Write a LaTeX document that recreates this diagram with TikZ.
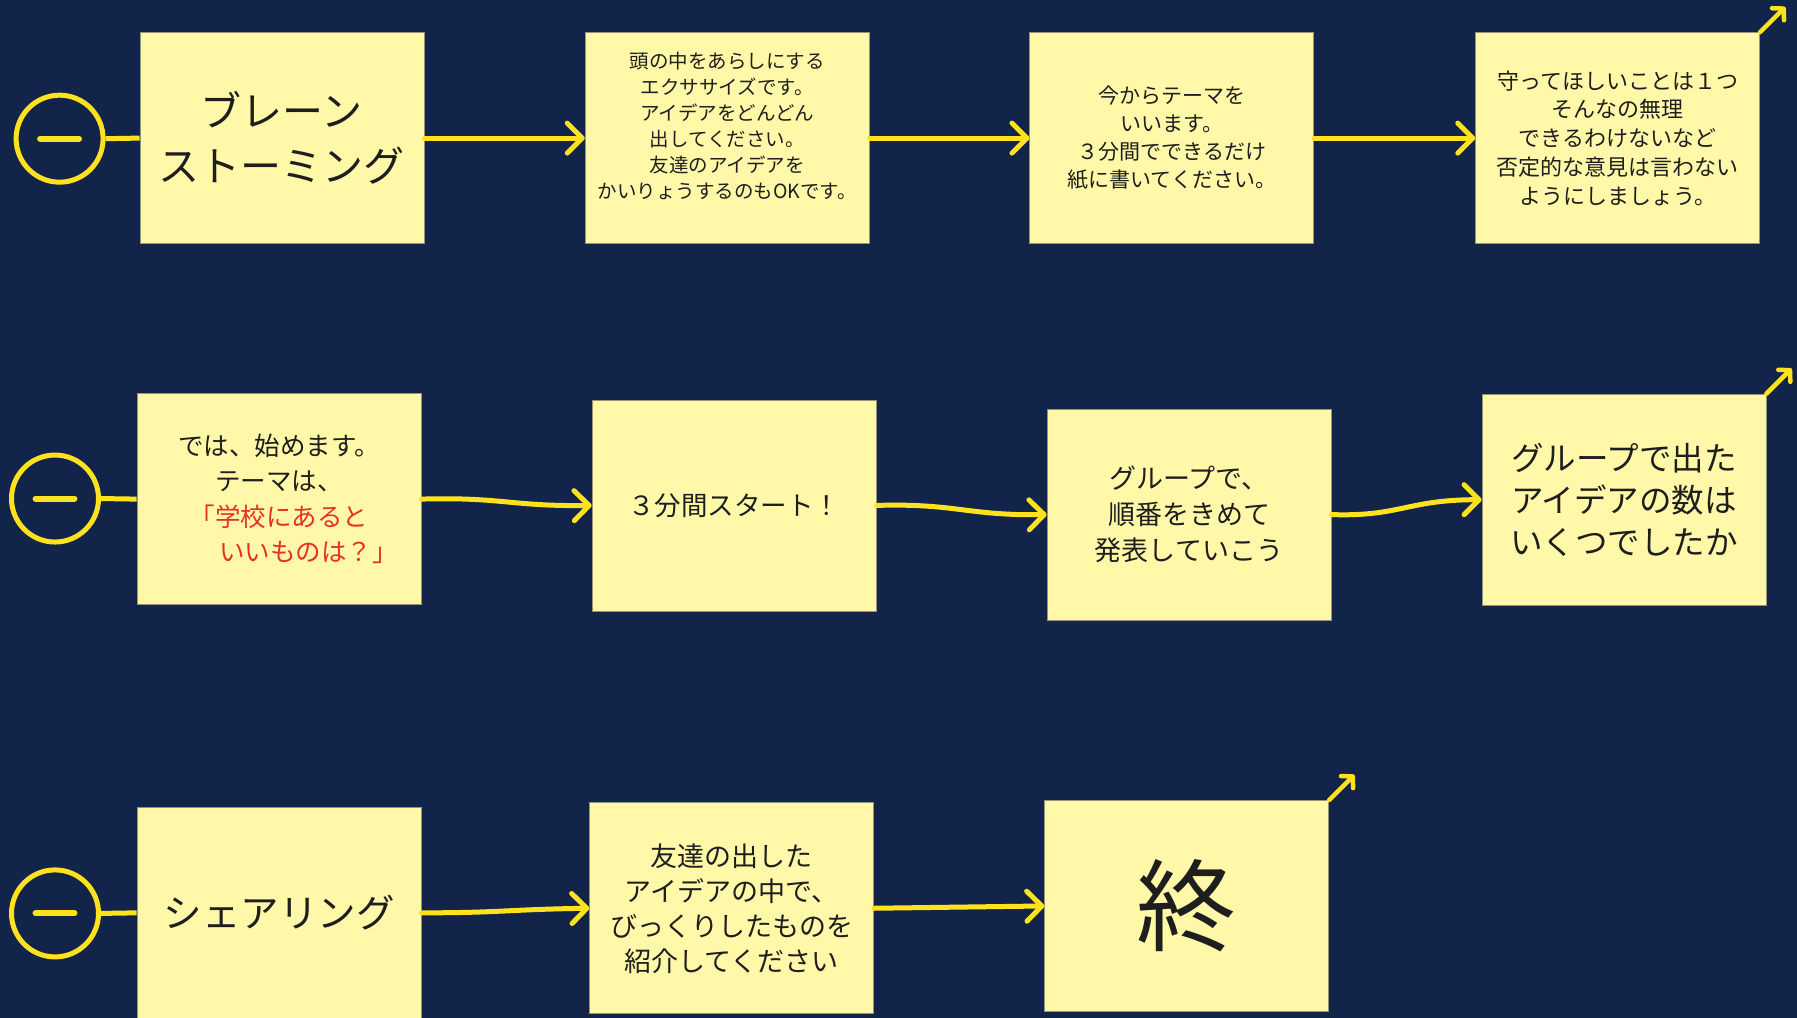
\documentclass[tikz,border=0pt]{standalone}
\usepackage{fontspec}
\newfontfamily\jp{Noto Sans CJK JP}
\usetikzlibrary{arrows.meta,calc}
\definecolor{bg}{RGB}{19,36,74}
\definecolor{boxfill}{RGB}{255,248,168}
\definecolor{boxline}{RGB}{150,148,118}
\definecolor{ylw}{RGB}{255,226,30}
\definecolor{redt}{RGB}{232,48,40}
\definecolor{txt}{RGB}{30,30,30}
\begin{document}
\begin{tikzpicture}[x=1.14605pt,y=-1.14605pt,
  box/.style={draw=boxline, line width=0.8pt, fill=boxfill, minimum width=284pt, minimum height=211pt, inner sep=0pt, align=center, text=txt},
  startc/.style={draw=ylw, line width=5pt, circle, minimum size=87pt, inner sep=0pt},
  minusbar/.style={draw=ylw, line width=6pt, line cap=round},
  link/.style={draw=ylw, line width=5pt},
  flow/.style={draw=ylw, line width=5pt, line cap=round, -{Straight Barb[length=15pt,width=30pt,round]}},
  corner/.style={draw=ylw, line width=4.5pt, line cap=round, -{Straight Barb[length=8pt,width=17pt,round]}}
]
\useasboundingbox (0,0) rectangle (1568,888);
\fill[bg] (0,0) rectangle (1568,888);

% row 1
\node[startc] (c1) at (52,121) {};
\node[box, font=\jp\fontsize{41}{55}\selectfont] (b1) at (246,120.5) {ブレーン\\ストーミング};
\node[box, font=\jp\fontsize{19.5}{26}\selectfont] (b2) at (634.5,120.5) {頭の中をあらしにする\\エクササイズです。\\アイデアをどんどん\\出してください。\\友達のアイデアを\\かいりょうするのもOKです。\\\mbox{}};
\node[box, font=\jp\fontsize{21}{28}\selectfont] (b3) at (1022.5,120.5) {今からテーマを\\いいます。\\３分間でできるだけ\\紙に書いてください。};
\node[box, font=\jp\fontsize{22}{28.7}\selectfont] (b4) at (1411.5,120.5) {守ってほしいことは１つ\\そんなの無理\\できるわけないなど\\否定的な意見は言わない\\ようにしましょう。};

% row 2
\node[startc] (c2) at (48,435) {};
\node[box, font=\jp\fontsize{25.5}{35.5}\selectfont] (b5) at (243.5,435.5) {では、始めます。\\テーマは、\\{\color{redt}「学校にあると}\\{\color{redt}\hspace*{2.3em}いいものは？」}};
\node[box, font=\jp\fontsize{26.5}{36}\selectfont] (b6) at (640.5,441) {３分間スタート！};
\node[box, font=\jp\fontsize{27}{36}\selectfont] (b7) at (1037.5,449) {グループで、\\順番をきめて\\発表していこう};
\node[box, font=\jp\fontsize{32.5}{42}\selectfont] (b8) at (1417,436) {グループで出た\\アイデアの数は\\いくつでしたか};

% row 3
\node[startc] (c3) at (48,797) {};
\node[box, font=\jp\fontsize{38.5}{50}\selectfont] (b9) at (243.5,796.5) {シェアリング};
\node[box, font=\jp\fontsize{27}{35}\selectfont] (b10) at (638.5,792.5) {友達の出した\\アイデアの中で、\\びっくりしたものを\\紹介してください};
\node[box, font=\jp\fontsize{100}{110}\selectfont] (b11) at (1035.5,790.5) {終};

% minus bars
\foreach \c in {c1,c2,c3}{
  \draw[minusbar] ($(\c.center)+(-17,0)$) -- ($(\c.center)+(17,0)$);
}

% links circle to box
\draw[link] (c1.east) -- (b1.west);
\draw[link] (c2.east) -- (b5.west);
\draw[link] (c3.east) -- (b9.west);

% row 1 arrows
\draw[flow] (b1.east) -- (b2.west);
\draw[flow] (b2.east) -- (b3.west);
\draw[flow] (b3.east) -- (b4.west);

% row 2 arrows
\draw[flow] (b5.east) .. controls +(70,-2) and +(-70,1) .. (b6.west);
\draw[flow] (b6.east) .. controls +(70,-2) and +(-70,1) .. (b7.west);
\draw[flow] (b7.east) .. controls +(60,2) and +(-65,0) .. (b8.west);

% row 3 arrows
\draw[flow] (b9.east) .. controls +(70,0) and +(-70,1) .. (b10.west);
\draw[flow] (b10.east) -- (b11.west);

% corner arrows
\coordinate (t4) at ($(b4.north east)+(22,-22)$);
\coordinate (t8) at ($(b8.north east)+(22,-22)$);
\coordinate (t11) at ($(b11.north east)+(22,-22)$);
\draw[corner] (b4.north east) -- (t4);
\draw[corner] (b8.north east) -- (t8);
\draw[corner] (b11.north east) -- (t11);
\end{tikzpicture}
\end{document}
